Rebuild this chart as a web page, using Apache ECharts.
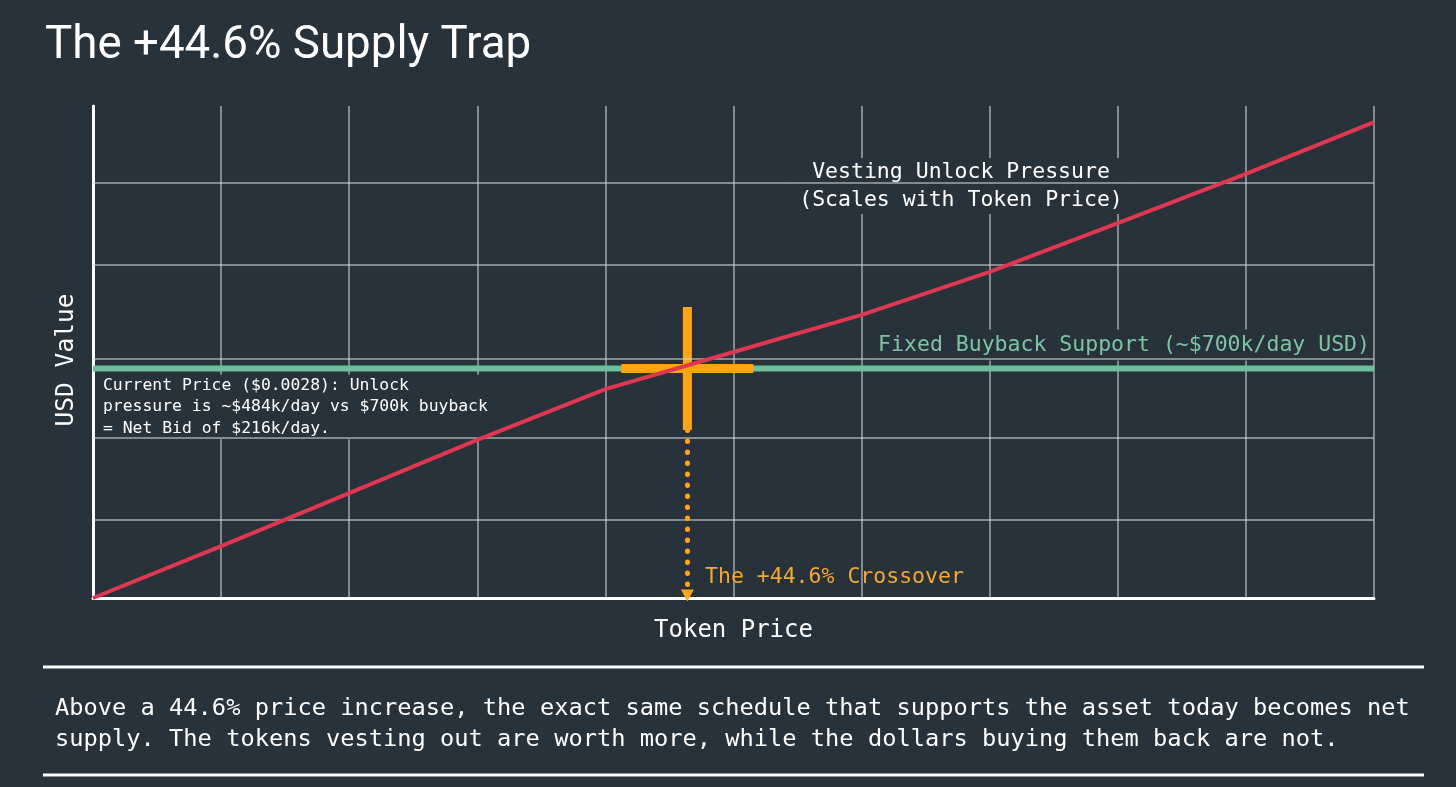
<!DOCTYPE html>
<html>
<head>
<meta charset="utf-8">
<script src="https://cdn.jsdelivr.net/npm/echarts@6/dist/echarts.min.js"></script>
<style>
html,body{margin:0;padding:0;background:#27323a;}
#chart{width:1456px;height:787px;}
</style>
</head>
<body>
<div id="chart"></div>
<script>
// ---- data ----
const priceSteps = [0, 1, 2, 3, 4, 5, 6, 7, 8, 9, 10];          // token price grid steps
const unlockPressure = [0, 158, 320, 482, 637, 750, 863, 994, 1143, 1293, 1451]; // $k/day
const buybackSupport = 700;                                      // $k/day
const crossoverPrice = 4.64;                                     // price step of the crossover
const usdGridValues = [240, 490, 730, 1015, 1265];               // horizontal grid lines ($k)
const titleText = 'The +44.6% Supply Trap';
const unlockLabel = 'Vesting Unlock Pressure\n(Scales with Token Price)';
const buybackLabel = 'Fixed Buyback Support (~$700k/day USD)';
const crossoverLabel = 'The +44.6% Crossover';
const noteText = 'Current Price ($0.0028): Unlock\npressure is ~$484k/day vs $700k buyback\n= Net Bid of $216k/day.';
const footerText = 'Above a 44.6% price increase, the exact same schedule that supports the asset today becomes net\nsupply. The tokens vesting out are worth more, while the dollars buying them back are not.';

const BG = '#27323a';
const MONO = '"DejaVu Sans Mono", "Liberation Mono", monospace';
const ORANGE = '#ffa512';
const GREEN = '#6dbf9b';
const RED = '#e0364f';
const GRIDC = 'rgba(210,214,218,0.72)';

const chart = echarts.init(document.getElementById('chart'), null, {renderer: 'canvas'});

const option = {
  backgroundColor: BG,
  animation: false,
  title: {
    text: titleText,
    left: 40, top: 19,
    textStyle: {color: '#ffffff', fontFamily: 'Roboto', fontSize: 45.7, fontWeight: 'normal'}
  },
  grid: {left: 93, right: 82, top: 106, bottom: 189},
  xAxis: {
    type: 'value', min: 0, max: 10, interval: 1,
    name: 'Token Price', nameLocation: 'middle', nameGap: 21,
    nameTextStyle: {color: '#ffffff', fontFamily: MONO, fontSize: 24},
    axisLine: {show: true, onZero: true, lineStyle: {color: '#ffffff', width: 3}},
    axisTick: {show: false},
    axisLabel: {show: false},
    splitLine: {show: true, lineStyle: {color: GRIDC, width: 1.5}}
  },
  yAxis: {
    type: 'value', min: 0, max: 1500,
    name: 'USD Value', nameLocation: 'middle', nameGap: 14,
    nameTextStyle: {color: '#ffffff', fontFamily: MONO, fontSize: 24.5, padding: [0, 16, 0, 0]},
    axisLine: {show: true, lineStyle: {color: '#ffffff', width: 3}},
    axisTick: {show: false},
    axisLabel: {show: false},
    splitLine: {show: false}
  },
  series: [
    {
      name: 'grid',
      type: 'line', data: [], z: 1, silent: true,
      markLine: {
        silent: true, symbol: ['none', 'none'], label: {show: false},
        lineStyle: {color: GRIDC, width: 1.5, type: 'solid'},
        data: usdGridValues.map(v => ({yAxis: v}))
      }
    },
    {
      name: 'Fixed Buyback Support',
      type: 'line', z: 3, symbol: 'none',
      data: [[priceSteps[0], buybackSupport], [priceSteps[priceSteps.length - 1], buybackSupport]],
      lineStyle: {color: GREEN, width: 6}
    },
    {
      name: 'cross',
      type: 'scatter', z: 4, silent: true,
      symbol: 'rect',
      data: [
        {value: [crossoverPrice, buybackSupport], symbolSize: [132, 9]},
        {value: [crossoverPrice, buybackSupport], symbolSize: [9, 123]}
      ],
      itemStyle: {color: ORANGE, opacity: 1},
      markLine: {
        silent: true,
        symbol: ['none', 'triangle'], symbolSize: [13, 12],
        label: {show: false},
        itemStyle: {color: ORANGE},
        lineStyle: {color: ORANGE, width: 5, type: [0.5, 10.5], cap: 'round', opacity: 1},
        data: [[{coord: [crossoverPrice, 512]}, {coord: [crossoverPrice, 8]}]]
      }
    },
    {
      name: 'Vesting Unlock Pressure',
      type: 'line', z: 5, symbol: 'none',
      data: priceSteps.map((p, i) => [p, unlockPressure[i]]),
      lineStyle: {color: RED, width: 4}
    }
  ],
  graphic: [
    {
      type: 'text', z: 2,
      style: {
        text: unlockLabel, x: 961, y: 186, align: 'center', verticalAlign: 'middle',
        fill: '#ffffff', font: '21.5px ' + MONO, lineHeight: 28,
        backgroundColor: BG, padding: [0, 8, 0, 8]
      }
    },
    {
      type: 'text', z: 2,
      style: {
        text: buybackLabel, x: 1372, y: 345, align: 'right', verticalAlign: 'middle',
        fill: '#7cc4a4', font: '21.5px ' + MONO, lineHeight: 24,
        backgroundColor: BG, padding: [3, 2, 4, 4]
      }
    },
    {
      type: 'text', z: 50,
      style: {
        text: crossoverLabel, x: 705, y: 577, align: 'left', verticalAlign: 'middle',
        fill: '#f5a830', font: '21.5px ' + MONO
      }
    },
    {
      type: 'text', z: 0.5,
      style: {
        text: noteText, x: 95, y: 407, align: 'left', verticalAlign: 'middle',
        fill: '#ffffff', font: '16.4px ' + MONO, lineHeight: 21.5,
        backgroundColor: BG, padding: [0, 4, 0, 8]
      }
    },
    {
      type: 'line', z: 50,
      shape: {x1: 43, y1: 667, x2: 1424, y2: 667},
      style: {stroke: '#ffffff', lineWidth: 3}
    },
    {
      type: 'line', z: 50,
      shape: {x1: 43, y1: 775, x2: 1424, y2: 775},
      style: {stroke: '#ffffff', lineWidth: 3}
    },
    {
      type: 'text', z: 50,
      style: {
        text: footerText, x: 55, y: 724, align: 'left', verticalAlign: 'middle',
        fill: '#ffffff', font: '23.7px ' + MONO, lineHeight: 31
      }
    }
  ]
};
chart.setOption(option);
</script>
</body>
</html>
